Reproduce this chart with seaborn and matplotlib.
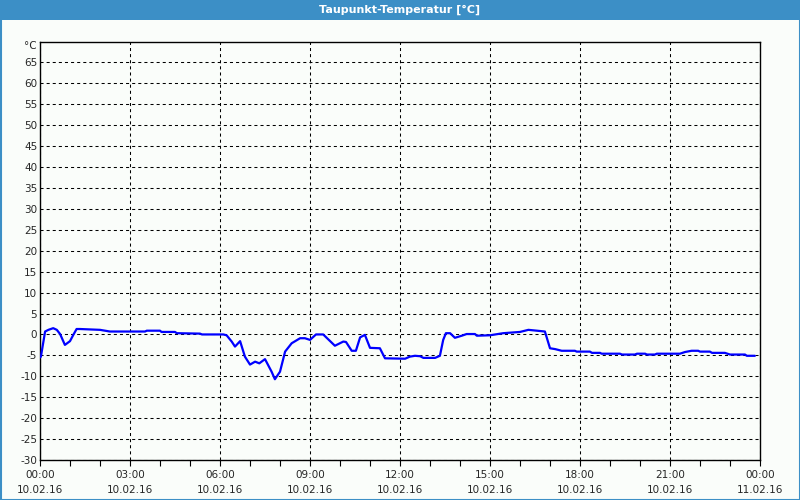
import matplotlib
matplotlib.use("Agg")
import matplotlib.pyplot as plt
import seaborn as sns
import pandas as pd
from matplotlib.patches import Rectangle

# ---- data ----
hours = [0.0, 0.03, 0.17, 0.28, 0.44, 0.56, 0.67, 0.83, 1.0, 1.11, 1.22, 1.33,
         2.0, 2.33, 3.5, 3.56, 4.0, 4.05, 4.5, 4.56, 5.33, 5.4, 6.11, 6.22,
         6.39, 6.5, 6.67, 6.83, 7.0, 7.17, 7.31, 7.5, 7.72, 7.83, 8.0, 8.17,
         8.39, 8.67, 8.83, 9.0, 9.2, 9.44, 9.83, 10.11, 10.2, 10.39, 10.53,
         10.67, 10.83, 11.0, 11.33, 11.5, 12.17, 12.33, 12.5, 12.67, 12.78,
         13.17, 13.33, 13.44, 13.53, 13.67, 13.83, 14.06, 14.22, 14.5, 14.56,
         15.0, 15.44, 16.0, 16.28, 16.56, 16.83, 17.0, 17.17, 17.39, 17.83,
         17.89, 18.33, 18.4, 18.67, 18.72, 19.33, 19.4, 19.83, 19.9, 20.17,
         20.23, 20.5, 20.56, 21.33, 21.5, 21.72, 21.94, 22.0, 22.33, 22.4,
         22.83, 23.0, 23.5, 23.56, 23.83]
dewpoint = [-5.5, -5.3, 0.7, 1.1, 1.5, 1.1, 0.1, -2.5, -1.6, -0.1, 1.3, 1.3,
            1.1, 0.7, 0.7, 0.9, 0.9, 0.6, 0.6, 0.3, 0.2, 0.0, 0.0, -0.2,
            -1.7, -2.9, -1.6, -5.3, -7.2, -6.5, -6.9, -5.9, -8.9, -10.7, -8.9, -4.1,
            -2.1, -0.9, -0.9, -1.3, 0.0, 0.0, -2.7, -1.7, -1.8, -3.9, -3.9,
            -0.7, -0.1, -3.2, -3.3, -5.7, -5.8, -5.3, -5.1, -5.2, -5.6,
            -5.6, -5.1, -1.3, 0.3, 0.3, -0.8, -0.3, 0.1, 0.1, -0.3,
            -0.2, 0.3, 0.6, 1.1, 0.9, 0.7, -3.3, -3.5, -3.9, -3.9,
            -4.1, -4.1, -4.4, -4.4, -4.6, -4.6, -4.8, -4.8, -4.6, -4.6,
            -4.8, -4.8, -4.6, -4.6, -4.2, -3.9, -3.9, -4.1, -4.1, -4.4,
            -4.4, -4.8, -4.8, -5.1, -5.1]
xtick_hours = [0, 3, 6, 9, 12, 15, 18, 21, 24]
xtick_labels = ["00:00\n10.02.16", "03:00\n10.02.16", "06:00\n10.02.16",
                "09:00\n10.02.16", "12:00\n10.02.16", "15:00\n10.02.16",
                "18:00\n10.02.16", "21:00\n10.02.16", "00:00\n11.02.16"]
ytick_values = list(range(-30, 70, 5))
title = "Taupunkt-Temperatur [°C]"
unit = "°C"

df = pd.DataFrame({"h": hours, "v": dewpoint})

sns.set_theme(style="white")
plt.rcParams["font.family"] = ["DejaVu Sans"]
plt.rcParams["lines.scale_dashes"] = False

bg = "#FAFDFA"
frame = "#3C8FC6"
fig = plt.figure(figsize=(8, 5), dpi=100, facecolor=bg)

# title bar and border
fig.patches.append(Rectangle((0, 1 - 20 / 500), 1, 20 / 500, transform=fig.transFigure,
                             facecolor=frame, edgecolor="none", zorder=0))
fig.patches.append(Rectangle((0.5 / 800, 0.5 / 500), 1 - 1 / 800, 1 - 1 / 500,
                             transform=fig.transFigure, facecolor="none",
                             edgecolor=frame, lw=1.5, zorder=0))
fig.text(0.5, 1 - 10 / 500, title, color="white", ha="center", va="center",
         fontsize=8, fontweight="bold")

ax = fig.add_axes([40 / 800, 40 / 500, 720 / 800, 418.5 / 500])
ax.set_facecolor(bg)
sns.lineplot(data=df, x="h", y="v", ax=ax, color="#0000FF", lw=1.6, zorder=3)

ax.set_xlim(0, 24)
ax.set_ylim(-30, 70)
ax.set_xticks(xtick_hours)
ax.set_xticklabels(xtick_labels, fontsize=7.5, linespacing=1.6)
ax.set_xticks(range(0, 25), minor=True)
ax.set_yticks(ytick_values)
ax.set_yticklabels([str(v) for v in ytick_values], fontsize=7.5)
ax.text(-0.004, 69, unit, transform=ax.get_yaxis_transform(), ha="right",
        va="center", fontsize=7.5)
ax.set_xlabel("")
ax.set_ylabel("")

ax.tick_params(axis="x", which="both", direction="out", length=4, width=0.8,
               color="black", pad=3, bottom=True)
ax.tick_params(axis="y", which="both", length=0, pad=2)
for s in ax.spines.values():
    s.set_visible(True)
    s.set_color("black")
    s.set_linewidth(1.0)

ax.grid(True, which="major", color="black", lw=0.75, linestyle=(0, (2.2, 2.2)))
ax.grid(False, which="minor")

fig.savefig("out.png", dpi=100, facecolor=bg)
